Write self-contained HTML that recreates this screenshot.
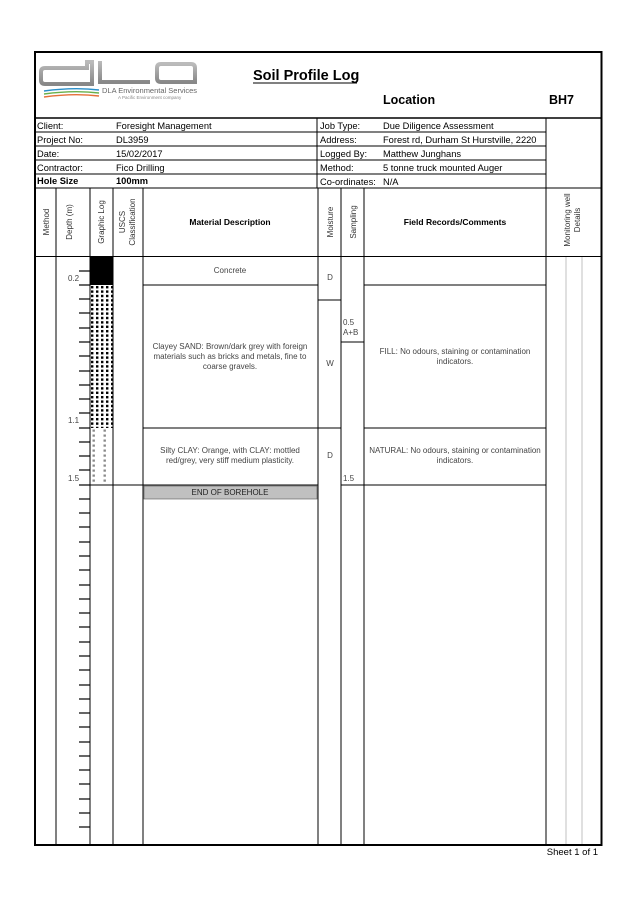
<!DOCTYPE html>
<html><head><meta charset="utf-8"><style>
html,body{margin:0;padding:0;background:#fff;}
svg{display:block;font-family:"Liberation Sans",Arial,sans-serif;}
</style></head><body>
<svg width="637" height="901" viewBox="0 0 637 901" xmlns="http://www.w3.org/2000/svg">
<defs>
<pattern id="dense" x="90" y="285" width="5" height="4.4" patternUnits="userSpaceOnUse"><rect x="1" y="1" width="2.4" height="2.4" fill="#000"/></pattern>
<pattern id="sparse" x="90" y="428" width="11" height="5" patternUnits="userSpaceOnUse"><rect x="2.5" y="1.5" width="2.4" height="2.2" fill="#888"/></pattern>
<linearGradient id="lg" x1="0" y1="0" x2="0" y2="1"><stop offset="0" stop-color="#bbb"/><stop offset="1" stop-color="#888"/></linearGradient>
</defs>
<rect x="35" y="52" width="566.5" height="793" fill="none" stroke="#000" stroke-width="2"/>
<line x1="35" y1="118" x2="602" y2="118" stroke="#000" stroke-width="1.5"/>
<g>
<path d="M45 68 h42 v-6 h5 v22 h-47 q-4 0 -4 -4 v-8 q0 -4 4 -4z" fill="none" stroke="url(#lg)" stroke-width="4"/>
<path d="M100 61 v21 h50" fill="none" stroke="url(#lg)" stroke-width="4"/>
<path d="M157 68 q0 -4 4 -4 h30 q4 0 4 4 v14 h-34 q-4 0 -4 -4z" fill="none" stroke="url(#lg)" stroke-width="4"/>
<path d="M44 91 q30 -4 55 -1" stroke="#2a8fc9" stroke-width="1.4" fill="none"/>
<path d="M44 94 q30 -4 55 -1" stroke="#6ab04c" stroke-width="1.4" fill="none"/>
<path d="M44 97 q30 -4 55 -1" stroke="#e5703a" stroke-width="1.4" fill="none"/>
<text x="102" y="93" font-size="7.5" fill="#666">DLA Environmental Services</text>
<text x="118" y="99" font-size="4.5" fill="#888">A Pacific Environment company</text>
</g>
<text x="253" y="80" font-size="14.5" font-weight="bold">Soil Profile Log</text>
<line x1="253" y1="83" x2="357" y2="83" stroke="#000" stroke-width="1"/>
<text x="383" y="104" font-size="12.5" font-weight="bold">Location</text>
<text x="549" y="104" font-size="12.5" font-weight="bold">BH7</text>
<g stroke="#000" stroke-width="1">
<line x1="35" y1="132" x2="546" y2="132"/>
<line x1="35" y1="146" x2="546" y2="146"/>
<line x1="35" y1="160" x2="546" y2="160"/>
<line x1="35" y1="174" x2="546" y2="174"/>
<line x1="317" y1="188" x2="546" y2="188"/>
<line x1="317" y1="118" x2="317" y2="188"/>
<line x1="546" y1="118" x2="546" y2="845"/>
<line x1="35" y1="188" x2="602" y2="188"/>
</g>
<g font-size="9.3">
<text x="37" y="129">Client:</text><text x="116" y="129">Foresight Management</text>
<text x="37" y="143">Project No:</text><text x="116" y="143">DL3959</text>
<text x="37" y="157">Date:</text><text x="116" y="157">15/02/2017</text>
<text x="37" y="171">Contractor:</text><text x="116" y="171">Fico Drilling</text>
<text x="37" y="184" font-weight="bold">Hole Size</text><text x="116" y="184" font-weight="bold">100mm</text>
<text x="320" y="129">Job Type:</text><text x="383" y="129">Due Diligence Assessment</text>
<text x="320" y="143">Address:</text><text x="383" y="143">Forest rd, Durham St Hurstville, 2220</text>
<text x="320" y="157">Logged By:</text><text x="383" y="157">Matthew Junghans</text>
<text x="320" y="171">Method:</text><text x="383" y="171">5 tonne truck mounted Auger</text>
<text x="320" y="185">Co-ordinates:</text><text x="383" y="185">N/A</text>
</g>
<g stroke="#000" stroke-width="1">
<line x1="56" y1="188" x2="56" y2="845"/>
<line x1="90" y1="188" x2="90" y2="845"/>
<line x1="113" y1="188" x2="113" y2="845"/>
<line x1="143" y1="188" x2="143" y2="845"/>
<line x1="318" y1="188" x2="318" y2="845"/>
<line x1="341" y1="188" x2="341" y2="845"/>
<line x1="364" y1="188" x2="364" y2="845"/>
<line x1="35" y1="256.5" x2="602" y2="256.5"/>
</g>
<g font-size="8" fill="#333">
<text transform="translate(49,222) rotate(-90)" text-anchor="middle">Method</text>
<text transform="translate(72,222) rotate(-90)" text-anchor="middle">Depth (m)</text>
<text transform="translate(104,222) rotate(-90)" text-anchor="middle">Graphic Log</text>
<text transform="translate(125,222) rotate(-90)" text-anchor="middle">USCS</text>
<text transform="translate(135,222) rotate(-90)" text-anchor="middle">Classification</text>
<text transform="translate(333,222) rotate(-90)" text-anchor="middle">Moisture</text>
<text transform="translate(356,222) rotate(-90)" text-anchor="middle">Sampling</text>
<text transform="translate(570,220) rotate(-90)" text-anchor="middle">Monitoring well</text>
<text transform="translate(580,220) rotate(-90)" text-anchor="middle">Details</text>
</g>
<text x="230" y="225" font-size="8.5" font-weight="bold" text-anchor="middle">Material Description</text>
<text x="455" y="225" font-size="8.5" font-weight="bold" text-anchor="middle">Field Records/Comments</text>
<line x1="566" y1="257" x2="566" y2="844" stroke="#ccc" stroke-width="1.2"/>
<line x1="582" y1="257" x2="582" y2="844" stroke="#ccc" stroke-width="1.2"/>
<rect x="90.5" y="257" width="22" height="28" fill="#000"/>
<rect x="90.5" y="285" width="22" height="143" fill="url(#dense)"/>
<rect x="90.5" y="428" width="22" height="57" fill="url(#sparse)"/>
<g stroke="#000" stroke-width="1">
<line x1="143" y1="285" x2="318" y2="285"/>
<line x1="143" y1="428" x2="318" y2="428"/>
<line x1="90" y1="485" x2="318" y2="485"/>
<line x1="364" y1="285" x2="546" y2="285"/>
<line x1="364" y1="428" x2="546" y2="428"/>
<line x1="364" y1="485" x2="546" y2="485"/>
<line x1="318" y1="300" x2="341" y2="300"/>
<line x1="318" y1="428" x2="341" y2="428"/>
<line x1="341" y1="342" x2="364" y2="342"/>
<line x1="341" y1="485" x2="364" y2="485"/>
</g>
<rect x="144" y="486" width="173" height="13" fill="#c0c0c0" stroke="#555" stroke-width="0.6"/>
<text x="230" y="495" font-size="8" text-anchor="middle" fill="#222">END OF BOREHOLE</text>
<g font-size="8" fill="#444" text-anchor="middle">
<text x="230" y="273">Concrete</text>
<text x="230" y="349">Clayey SAND: Brown/dark grey with foreign</text>
<text x="230" y="359">materials such as bricks and metals, fine to</text>
<text x="230" y="369">coarse gravels.</text>
<text x="230" y="453">Silty CLAY: Orange, with CLAY: mottled</text>
<text x="230" y="463">red/grey, very stiff medium plasticity.</text>
<text x="455" y="354">FILL: No odours, staining or contamination</text>
<text x="455" y="364">indicators.</text>
<text x="455" y="453">NATURAL: No odours, staining or contamination</text>
<text x="455" y="463">indicators.</text>
<text x="330" y="280">D</text>
<text x="330" y="366">W</text>
<text x="330" y="458">D</text>
</g>
<g font-size="8" fill="#444">
<text x="343" y="325">0.5</text>
<text x="343" y="335">A+B</text>
<text x="343" y="481">1.5</text>
<text x="68" y="281">0.2</text>
<text x="68" y="423">1.1</text>
<text x="68" y="481">1.5</text>
</g>
<g stroke="#000" stroke-width="1.2">
<line x1="79" y1="271" x2="90" y2="271"/><line x1="79" y1="285" x2="90" y2="285"/><line x1="79" y1="299" x2="90" y2="299"/><line x1="79" y1="313" x2="90" y2="313"/><line x1="79" y1="328" x2="90" y2="328"/><line x1="79" y1="342" x2="90" y2="342"/><line x1="79" y1="356" x2="90" y2="356"/><line x1="79" y1="371" x2="90" y2="371"/><line x1="79" y1="385" x2="90" y2="385"/><line x1="79" y1="399" x2="90" y2="399"/><line x1="79" y1="413" x2="90" y2="413"/><line x1="79" y1="428" x2="90" y2="428"/><line x1="79" y1="442" x2="90" y2="442"/><line x1="79" y1="456" x2="90" y2="456"/><line x1="79" y1="470" x2="90" y2="470"/><line x1="79" y1="485" x2="90" y2="485"/><line x1="79" y1="499" x2="90" y2="499"/><line x1="79" y1="513" x2="90" y2="513"/><line x1="79" y1="527" x2="90" y2="527"/><line x1="79" y1="542" x2="90" y2="542"/><line x1="79" y1="556" x2="90" y2="556"/><line x1="79" y1="570" x2="90" y2="570"/><line x1="79" y1="585" x2="90" y2="585"/><line x1="79" y1="599" x2="90" y2="599"/><line x1="79" y1="613" x2="90" y2="613"/><line x1="79" y1="627" x2="90" y2="627"/><line x1="79" y1="642" x2="90" y2="642"/><line x1="79" y1="656" x2="90" y2="656"/><line x1="79" y1="670" x2="90" y2="670"/><line x1="79" y1="685" x2="90" y2="685"/><line x1="79" y1="699" x2="90" y2="699"/><line x1="79" y1="713" x2="90" y2="713"/><line x1="79" y1="727" x2="90" y2="727"/><line x1="79" y1="742" x2="90" y2="742"/><line x1="79" y1="756" x2="90" y2="756"/><line x1="79" y1="770" x2="90" y2="770"/><line x1="79" y1="784" x2="90" y2="784"/><line x1="79" y1="799" x2="90" y2="799"/><line x1="79" y1="813" x2="90" y2="813"/><line x1="79" y1="827" x2="90" y2="827"/>
</g>
<text x="598" y="855" font-size="9.5" text-anchor="end">Sheet 1 of 1</text>
</svg>
</body></html>
